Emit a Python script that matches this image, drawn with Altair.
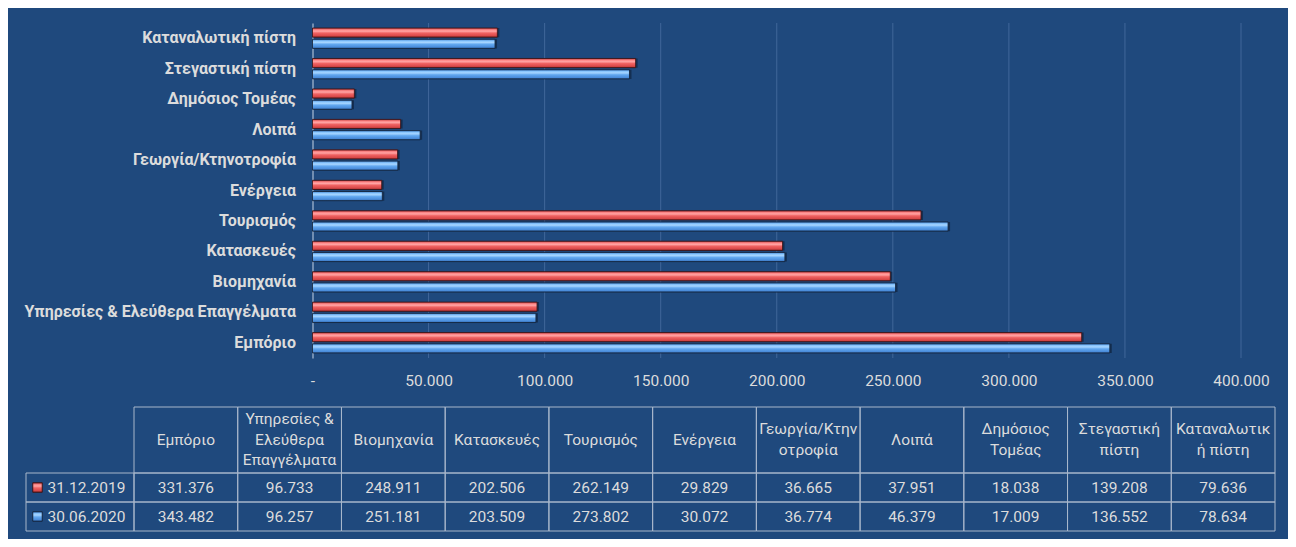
import altair as alt
import pandas as pd

# ---------------- data ----------------
categories = [
    "Εμπόριο",
    "Υπηρεσίες & Ελεύθερα Επαγγέλματα",
    "Βιομηχανία",
    "Κατασκευές",
    "Τουρισμός",
    "Ενέργεια",
    "Γεωργία/Κτηνοτροφία",
    "Λοιπά",
    "Δημόσιος Τομέας",
    "Στεγαστική πίστη",
    "Καταναλωτική πίστη",
]
table_headers = [
    "Εμπόριο",
    "Υπηρεσίες &\nΕλεύθερα\nΕπαγγέλματα",
    "Βιομηχανία",
    "Κατασκευές",
    "Τουρισμός",
    "Ενέργεια",
    "Γεωργία/Κτην\nοτροφία",
    "Λοιπά",
    "Δημόσιος\nΤομέας",
    "Στεγαστική\nπίστη",
    "Καταναλωτικ\nή πίστη",
]
series = ["31.12.2019", "30.06.2020"]
values_2019 = [331376, 96733, 248911, 202506, 262149, 29829, 36665, 37951, 18038, 139208, 79636]
values_2020 = [343482, 96257, 251181, 203509, 273802, 30072, 36774, 46379, 17009, 136552, 78634]
tick_values = [0, 50000, 100000, 150000, 200000, 250000, 300000, 350000, 400000]

rows = []
for i, c in enumerate(categories):
    rows.append({"cat": c, "header": table_headers[i], "series": series[0], "value": values_2019[i]})
    rows.append({"cat": c, "header": table_headers[i], "series": series[1], "value": values_2020[i]})
df = pd.DataFrame(rows)
hdf = pd.DataFrame({"header": table_headers})
sdf = pd.DataFrame({"series": series})
gdf = pd.DataFrame({"value": tick_values[1:]})

# one row per header line, centred around 0 so the block is vertically centred
line_rows = []
for h in table_headers:
    parts = h.split("\n")
    n = len(parts)
    for j, p in enumerate(parts):
        line_rows.append({"header": h, "line": p, "pos": j - (n - 1) / 2})
ldf = pd.DataFrame(line_rows)

# ---------------- style ----------------
BG = "#1F497D"
TXT = "#DCDCDC"
GRID = "#41679A"
BORDER = "#A8B7CB"
FONT = "Roboto"
W, H = 1280, 531

red_grad = alt.Gradient(
    gradient="linear", x1=0, y1=0, x2=0, y2=1,
    stops=[
        alt.GradientStop(offset=0, color="#C0393B"),
        alt.GradientStop(offset=0.2, color="#FF8A8A"),
        alt.GradientStop(offset=0.35, color="#FFA3A3"),
        alt.GradientStop(offset=0.55, color="#F06262"),
        alt.GradientStop(offset=0.85, color="#D84848"),
        alt.GradientStop(offset=1, color="#9E2A2A"),
    ],
)
blue_grad = alt.Gradient(
    gradient="linear", x1=0, y1=0, x2=0, y2=1,
    stops=[
        alt.GradientStop(offset=0, color="#3F7FCC"),
        alt.GradientStop(offset=0.2, color="#8CC8FF"),
        alt.GradientStop(offset=0.35, color="#A6D4FF"),
        alt.GradientStop(offset=0.55, color="#62A8F0"),
        alt.GradientStop(offset=0.85, color="#4A8CDB"),
        alt.GradientStop(offset=1, color="#2C5F9E"),
    ],
)

# ---------------- bar chart ----------------
x_enc = alt.X(
    "value:Q",
    scale=alt.Scale(domain=[0, 400000], range=[304.5, 1233], nice=False, zero=True),
    axis=alt.Axis(
        values=tick_values, orient="bottom", offset=-181, grid=False, domain=False,
        ticks=False, labelPadding=15, labelColor=TXT, labelFontSize=15.5, labelFont=FONT,
        labelFlush=False, labelOverlap=False, title=None,
        labelExpr="datum.value == 0 ? '-' : replace(format(datum.value, ','), ',', '.')",
    ),
)
y_enc = alt.Y(
    "cat:N",
    sort=None,
    scale=alt.Scale(domain=list(reversed(categories)), range=[15, 350],
                    paddingInner=0.33, paddingOuter=0.165),
    axis=alt.Axis(
        orient="left", offset=-304.5, grid=False, ticks=False, domain=True,
        domainColor="#8FA6C3", domainWidth=1.5, labelPadding=17, labelColor=TXT,
        labelFontSize=16, labelFont=FONT, labelFontWeight="bold", labelLimit=500,
        title=None,
    ),
)
yoff = alt.YOffset("series:N", scale=alt.Scale(domain=series, paddingInner=0.18, paddingOuter=0))

grid = alt.Chart(gdf).mark_rule(color=GRID, strokeWidth=1).encode(
    x=x_enc, y=alt.value(15), y2=alt.value(350)
)
shadow = alt.Chart(df).mark_bar(fill="#0B1A30", opacity=0.55, xOffset=2, yOffset=2).encode(
    x=x_enc, y=y_enc, yOffset=yoff
)
red_bars = alt.Chart(df).transform_filter(alt.datum.series == series[0]).mark_bar(
    fill=red_grad, stroke="#3A1418", strokeWidth=1, strokeOpacity=0.85
).encode(x=x_enc, y=y_enc, yOffset=yoff)
blue_bars = alt.Chart(df).transform_filter(alt.datum.series == series[1]).mark_bar(
    fill=blue_grad, stroke="#14243C", strokeWidth=1, strokeOpacity=0.85
).encode(x=x_enc, y=y_enc, yOffset=yoff)

bars = alt.layer(grid, shadow, red_bars, blue_bars)

# ---------------- data table ----------------
def x_table():
    return alt.X("header:N", sort=None,
                 scale=alt.Scale(domain=table_headers, range=[126, 1267],
                                 paddingInner=0, paddingOuter=0),
                 axis=None)

y_t = alt.Y("series:N", sort=None,
            scale=alt.Scale(domain=series, range=[465, 523], paddingInner=0, paddingOuter=0),
            axis=None)

head_cells = alt.Chart(hdf).mark_rect(fillOpacity=0, stroke=BORDER, strokeWidth=1).encode(
    x=x_table(), y=alt.value(399), y2=alt.value(465)
)
data_cells = alt.Chart(df).mark_rect(fillOpacity=0, stroke=BORDER, strokeWidth=1).encode(
    x=x_table(), y=y_t
)
legend_cells = alt.Chart(sdf).mark_rect(fillOpacity=0, stroke=BORDER, strokeWidth=1).encode(
    x=alt.value(18), x2=alt.value(126), y=y_t
)
data_text = alt.Chart(df).transform_calculate(
    label="replace(format(datum.value, ','), ',', '.')"
).mark_text(fontSize=15.5, font=FONT, color=TXT, align="center", baseline="middle").encode(
    x=x_table(), y=y_t, text="label:N"
)
row_text = alt.Chart(sdf).mark_text(
    fontSize=15.5, font=FONT, color=TXT, align="left", baseline="middle"
).encode(x=alt.value(39.5), y=y_t, text="series:N")
red_sq = alt.Chart(sdf).transform_filter(alt.datum.series == series[0]).mark_square(
    size=90, fill=red_grad, stroke="#3A1418", strokeWidth=1, opacity=1
).encode(x=alt.value(29.5), y=y_t)
blue_sq = alt.Chart(sdf).transform_filter(alt.datum.series == series[1]).mark_square(
    size=90, fill=blue_grad, stroke="#14243C", strokeWidth=1, opacity=1
).encode(x=alt.value(29.5), y=y_t)

table = alt.layer(head_cells, data_cells, legend_cells, data_text, row_text, red_sq, blue_sq)

head_text = alt.Chart(ldf).mark_text(
    fontSize=15.5, font=FONT, color=TXT, align="center", baseline="middle"
).encode(
    x=x_table(),
    y=alt.Y("pos:Q", scale=alt.Scale(domain=[-1, 1], range=[411, 452], zero=False, nice=False),
            axis=None),
    text="line:N",
)

chart = (
    alt.layer(bars, table, head_text)
    .resolve_scale(x="independent", y="independent")
    .properties(width=W, height=H, background=BG, padding=0,
                autosize=alt.AutoSizeParams(type="none"))
    .configure_view(strokeWidth=0)
)

chart.save("out.html", embed_options={"renderer": "svg", "actions": False})
